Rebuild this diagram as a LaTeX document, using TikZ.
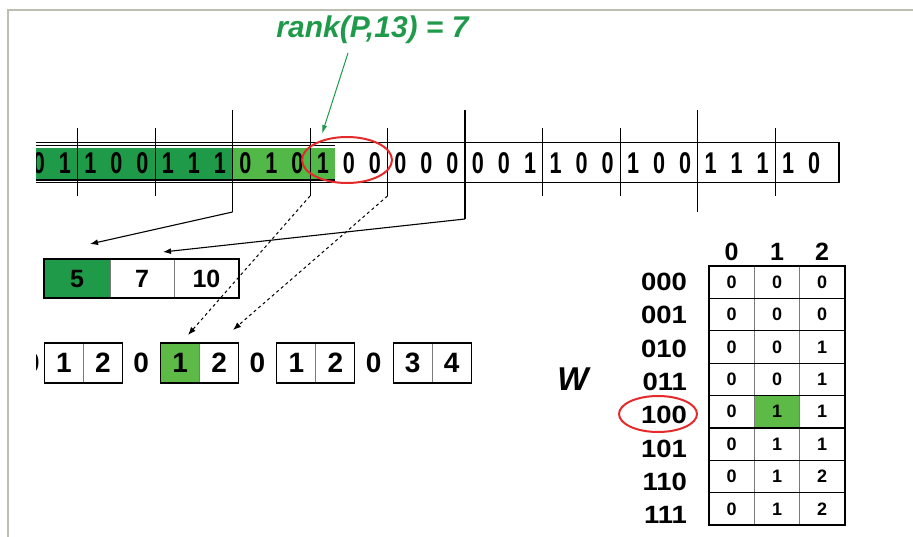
\documentclass[tikz,border=0pt]{standalone}
\usepackage{fontspec}
\setmainfont{Liberation Sans}
\usepackage{graphicx}
\usetikzlibrary{arrows.meta}

\definecolor{dgreen}{HTML}{1F9A48}
\definecolor{lgreen}{HTML}{52B848}
\definecolor{hgreen}{HTML}{5DBA47}
\definecolor{lblgreen}{HTML}{1E9A4A}
\definecolor{ringred}{HTML}{E42A2A}
\definecolor{framegray}{HTML}{BDBDB0}
\definecolor{cellgray}{HTML}{7A7A7A}

\newcommand\bitfnt{\fontsize{30}{30}\selectfont\bfseries}
\newcommand\blkfnt{\fontsize{28}{28}\selectfont\bfseries}
\newcommand\sbfnt{\fontsize{25}{25}\selectfont\bfseries}
\newcommand\cellfnt{\fontsize{18}{18}\selectfont\bfseries}
\newcommand\hdrfnt{\fontsize{25}{25}\selectfont\bfseries}

\begin{document}
\begin{tikzpicture}[x=1pt,y=-1pt,
  txt/.style={inner sep=0pt, outer sep=0pt},
  bitnode/.style={txt, font=\bitfnt},
  blknode/.style={txt, font=\blkfnt},
  sbnode/.style={txt, font=\sbfnt},
  cellnode/.style={txt, font=\cellfnt},
  hdrnode/.style={txt, font=\hdrfnt},
  edge/.style={line width=1.1pt},
  tallsep/.style={line width=1.4pt},
  shortsep/.style={line width=1.0pt},
  ptr/.style={line width=1.1pt, -{Latex[length=8pt,width=6pt]}},
  dptr/.style={line width=1.0pt, dash pattern=on 3pt off 3pt, -{Latex[length=8pt,width=6pt]}},
  ring/.style={ringred, line width=2pt}]
\useasboundingbox (0,0) rectangle (913,537);

% page frame (top and left rules only)
\draw[framegray, line width=2.2pt] (8,537) -- (8,10) -- (913,10);

% ---------------- bit vector ----------------
\begin{scope}
  \clip (36,100) rectangle (913,230);
  \fill[dgreen] (30,148) rectangle (232.5,180);
  \fill[lgreen] (232.5,148) rectangle (335,180);
  \draw[edge] (30,142.5) rectangle (839,182.5);
  \draw[edge] (30,145.5) -- (335,145.5) (30,180) -- (335,180);
  \foreach \b [count=\i from 0] in {0,0,1, 1,0,0, 1,1,1, 0,1,0, 1,0,0, 0,0,0, 0,0,1, 1,0,0, 1,0,0, 1,1,1, 1,0}{
    \pgfmathsetmacro\bx{int(\i/3)*77.5 + 13 + 26*mod(\i,3)}
    \node[bitnode] (bit\i) at (\bx,163) {\scalebox{0.72}[1]{\b}};
  }
\end{scope}

% block separators (short) and superblock separators (tall)
\foreach \x [count=\k] in {77.5,155,310,387.5,542.5,620,775}{
  \coordinate (st\k) at (\x,128);
  \coordinate (sb\k) at (\x,196);
  \draw[shortsep] (st\k) -- (sb\k);
}
\coordinate (tA) at (232.5,110); \coordinate (bA) at (232.5,212);
\coordinate (tB) at (465,110);   \coordinate (bB) at (465,219);
\coordinate (tC) at (697.5,110); \coordinate (bC) at (697.5,212);
\draw[tallsep] (tC) -- (bC);

% ---------------- superblock counts ----------------
\fill[dgreen] (44,259) rectangle (110,298);
\draw[cellgray, line width=1pt] (110,259) -- (110,298) (174,259) -- (174,298);
\draw[edge] (44,259) rectangle (239,298);
\node[sbnode] (sc1) at (77,279) {5};
\node[sbnode] (sc2) at (142,279) {7};
\node[sbnode] (sc3) at (206.5,279) {10};
\coordinate (sa1) at (90,244);
\coordinate (sa2) at (163,252);

% ---------------- block counts ----------------
\fill[hgreen] (160.7,343) rectangle (199.7,383);
\begin{scope}
  \clip (36,320) rectangle (913,400);
  \foreach \k/\p/\q in {0/1/2, 1/1/2, 2/1/2, 3/3/4}{
    \pgfmathsetmacro\L{44.5+116.2*\k}
    \pgfmathsetmacro\Z{\k==0 ? 32 : \L-19.5}
    \draw[cellgray, line width=1pt] (\L+39,343) -- (\L+39,383);
    \draw[edge] (\L,343) rectangle (\L+78,383);
    \node[blknode] (bz\k) at (\Z,363) {0};
    \node[blknode] (bp\k) at (\L+19.5,363) {\p};
    \node[blknode] (bq\k) at (\L+58.5,363) {\q};
  }
\end{scope}
\coordinate (ba1) at (188,335);
\coordinate (ba2) at (233,330);

% pointers from the bit vector into the count tables
\draw[tallsep] (tA) -- (bA);
\draw[ptr] (bA) -- (sa1);
\draw[tallsep] (tB) -- (bB);
\draw[ptr] (bB) -- (sa2);
\draw[dptr] (sb3) -- (ba1);
\draw[dptr] (sb4) -- (ba2);

% ---------------- rank query ----------------
\node[txt, text=lblgreen, font=\fontsize{30}{30}\selectfont\bfseries\itshape]
  (rank) at (372.5,30) {rank(P,13) = 7};
\coordinate (rtail) at (348,53);
\coordinate (rhead) at (322,134);
\draw[lblgreen, line width=1pt, -{Latex[length=9pt,width=5pt]}] (rtail) -- (rhead);
\draw[ring] (347,160) ellipse [x radius=45, y radius=23];

% ---------------- lookup table W ----------------
\node[txt, font=\fontsize{33}{33}\selectfont\bfseries\itshape] (W) at (573,379) {W};
\fill[hgreen] (754,396) rectangle (799.5,428.4);
\foreach \x in {754,799.5}
  \draw[cellgray, line width=1pt] (\x,266) -- (\x,525);
\foreach \r in {1,...,7}
  \draw[line width=1.1pt] (709,266+32.4*\r) -- (845,266+32.4*\r);
\draw[edge] (709,266) rectangle (845,525);
\foreach \h/\x in {0/731.5,1/777,2/822}
  \node[hdrnode] (hd\h) at (\x,252) {\h};
\foreach \lab/\a/\b/\c [count=\r from 0] in
  {000/0/0/0, 001/0/0/0, 010/0/0/1, 011/0/0/1, 100/0/1/1, 101/0/1/1, 110/0/1/2, 111/0/1/2}{
  \pgfmathsetmacro\ry{282.2+32.4*\r}
  \pgfmathsetmacro\ly{282+33.3*\r}
  \node[hdrnode, anchor=east] (rl\r) at (687,\ly) {\scalebox{1.1}[1]{\lab}};
  \node[cellnode] (ca\r) at (731.5,\ry) {\a};
  \node[cellnode] (cb\r) at (777,\ry) {\b};
  \node[cellnode] (cc\r) at (822,\ry) {\c};
}
\draw[ring] (658,414) ellipse [x radius=39, y radius=18];
\end{tikzpicture}
\end{document}
